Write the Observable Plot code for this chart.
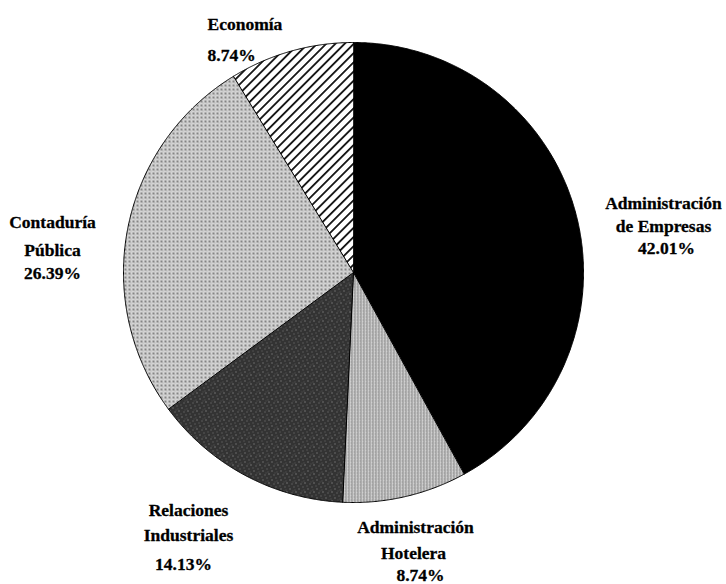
<!DOCTYPE html>
<html><head><meta charset="utf-8">
<script src="https://cdn.jsdelivr.net/npm/d3@7"></script>
<script src="https://cdn.jsdelivr.net/npm/@observablehq/plot@0.6"></script>
<style>
body{margin:0;background:#fff}
#chart svg text{font-family:'Liberation Serif', serif !important;font-weight:bold !important;}
</style>
</head><body><div id="chart"></div>
<script>
// ---- data (clockwise from 12 o'clock) ----
const categories = ["Administración de Empresas", "Administración Hotelera", "Relaciones Industriales", "Contaduría Pública", "Economía"];
const shares = [42.01, 8.74, 14.13, 26.39, 8.74];
const shareLabels = ["42.01%", "8.74%", "14.13%", "26.39%", "8.74%"];
const nameLines = [["Administración", "de Empresas"], ["Administración", "Hotelera"], ["Relaciones", "Industriales"], ["Contaduría", "Pública"], ["Economía"]];

// ---- styling / layout ----
const patterns = ["black", "url(#pHotel)", "url(#pRel)", "url(#pCont)", "url(#pEco)"];
const W = 726, H = 584, CX = 353, CY = 272, R = 230;
const FONT = "Liberation Serif";
// label line anchors in pixels: [x, y] per line (name lines then share)
const labelLayout = [
  {anchor: "middle", pts: [[663, 203], [663, 226], [666, 248]]},
  {anchor: "middle", pts: [[415, 527], [413, 553], [420, 575]]},
  {anchor: "middle", pts: [[188, 510], [188, 535], [183, 564]]},
  {anchor: "middle", pts: [[52, 222], [52, 250], [52, 273]]},
  {anchor: "start",  pts: [[207, 24], [207, 55]]}
];

const arcs = d3.pie().sort(null).value(d => d)(shares);
const slices = arcs.map((a, i) => {
  const pts = [{x: 0, y: 0}];
  const n = Math.max(2, Math.ceil((a.endAngle - a.startAngle) / 0.005));
  for (let k = 0; k <= n; k++) {
    const t = a.startAngle + (a.endAngle - a.startAngle) * k / n;
    pts.push({x: Math.sin(t), y: Math.cos(t)});
  }
  return {name: categories[i], fill: patterns[i], pts};
});

const labels = [];
labelLayout.forEach((L, i) => {
  const lines = [...nameLines[i], shareLabels[i]];
  lines.forEach((t, j) => {
    const [px, py] = L.pts[j];
    labels.push({text: t, x: (px - CX) / R, y: (CY - py) / R, anchor: L.anchor});
  });
});

function defsMark() {
  const ns = "http://www.w3.org/2000/svg";
  const g = document.createElementNS(ns, "defs");
  g.innerHTML = `
    <pattern id="pHotel" width="3" height="3" patternUnits="userSpaceOnUse">
      <rect width="3" height="3" fill="#d0d0d0"/>
      <rect x="0" width="1" height="3" fill="#8a8a8a"/>
      <rect x="2" y="1" width="1" height="1" fill="#a4a4a4"/>
    </pattern>
    <pattern id="pRel" width="9" height="9" patternUnits="userSpaceOnUse">
      <rect width="9" height="9" fill="#333"/>
      <rect x="1" y="2" width="1" height="1" fill="#9a9a9a"/>
      <rect x="5" y="0" width="1" height="1" fill="#7a7a7a"/>
      <rect x="7" y="5" width="1" height="1" fill="#a5a5a5"/>
      <rect x="3" y="6" width="1" height="1" fill="#808080"/>
      <rect x="0" y="8" width="1" height="1" fill="#6a6a6a"/>
      <rect x="6" y="3" width="1" height="1" fill="#5c5c5c"/>
      <rect x="4" y="4" width="1" height="1" fill="#525252"/>
    </pattern>
    <pattern id="pCont" width="4" height="4" patternUnits="userSpaceOnUse">
      <rect width="4" height="4" fill="#d4d4d4"/>
      <rect x="0" y="0" width="2" height="2" fill="#858585"/>
      <rect x="2" y="2" width="1" height="1" fill="#b0b0b0"/>
    </pattern>
    <pattern id="pEco" width="6.5" height="6.5" patternUnits="userSpaceOnUse" patternTransform="rotate(45)">
      <rect width="6.5" height="6.5" fill="#ffffff"/>
      <rect x="0" width="1.8" height="6.5" fill="#111"/>
    </pattern>`;
  return g;
}

const chart = Plot.plot({
  width: W, height: H,
  marginLeft: CX - R, marginRight: W - (CX + R),
  marginTop: CY - R, marginBottom: H - (CY + R),
  x: {domain: [-1, 1], axis: null},
  y: {domain: [-1, 1], axis: null},
  style: {background: "#fff"},
  marks: [
    defsMark,
    ...slices.map(s => Plot.line(s.pts, {x: "x", y: "y", curve: "linear-closed", fill: s.fill, stroke: "#000", strokeWidth: 1})),
    ...["start", "middle"].map(anc => Plot.text(labels.filter(d => d.anchor === anc), {
      x: "x", y: "y", text: "text", textAnchor: anc, lineAnchor: "middle",
      fontFamily: FONT, fontWeight: "bold", fontSize: 17.5, fill: "#000", stroke: "#000", strokeWidth: 0.3
    }))
  ]
});
document.getElementById("chart").appendChild(chart);
</script>
</body></html>
